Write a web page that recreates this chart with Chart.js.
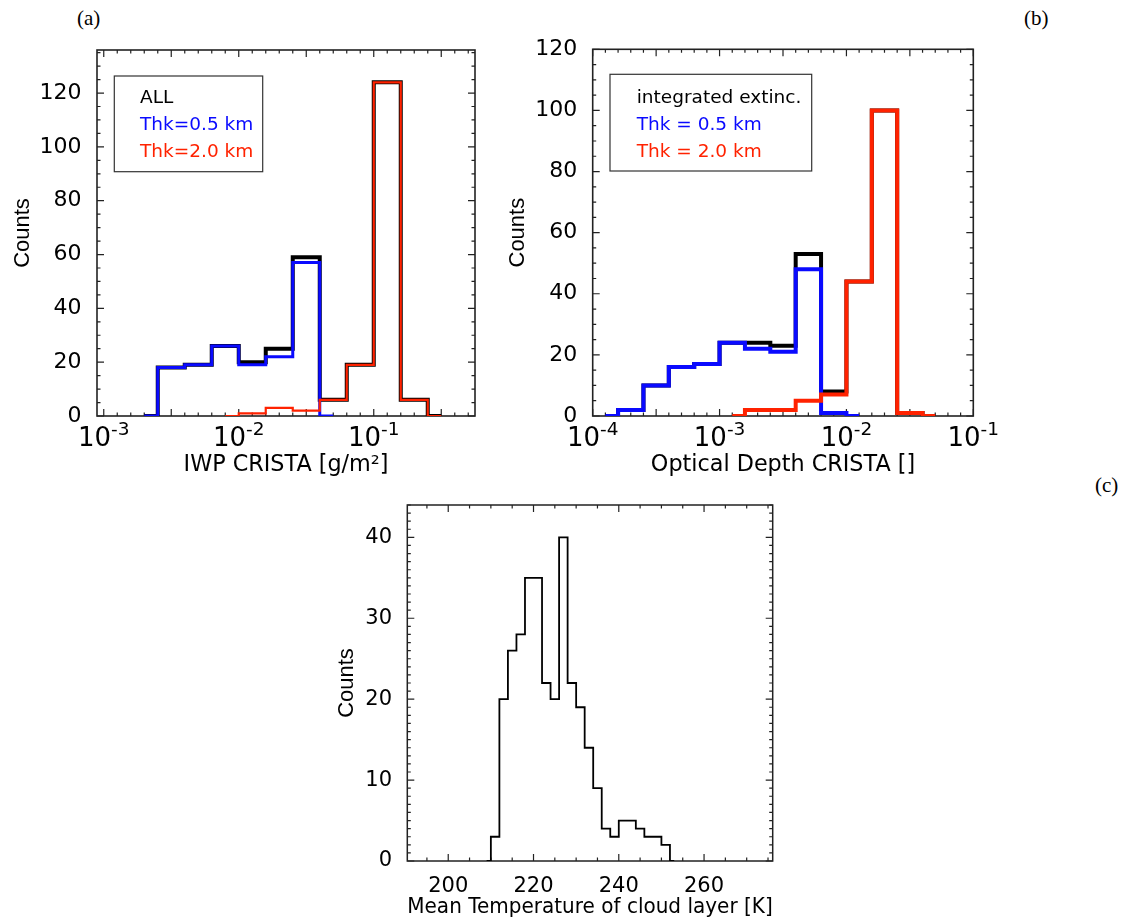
<!DOCTYPE html>
<html>
<head>
<meta charset="utf-8">
<script src="https://cdn.jsdelivr.net/npm/chart.js@4.4.1/dist/chart.umd.min.js"></script>
<style>
  html, body { margin: 0; padding: 0; background: #fff; }
  body { position: relative; width: 1126px; height: 924px; overflow: hidden; }
  canvas { position: absolute; }
  .tag { position: absolute; font-family: "Liberation Serif", "Times New Roman", serif; font-size: 21px; line-height: 1; color: #000; }
</style>
</head>
<body>
<div class="tag" style="left:77px; top:8px;">(a)</div>
<div class="tag" style="left:1024px; top:8px;">(b)</div>
<div class="tag" style="left:1095px; top:475px;">(c)</div>
<canvas id="iwpChart" width="500" height="490" style="left:0; top:0;"></canvas>
<canvas id="tauChart" width="500" height="490" style="left:500px; top:0;"></canvas>
<canvas id="tempChart" width="500" height="464" style="left:300px; top:460px;"></canvas>
<script>
// (a) IWP histogram, bin centres in log10(IWP)
const iwpBins = [-2.7, -2.5, -2.3, -2.1, -1.9, -1.7, -1.5, -1.3, -1.1, -0.9, -0.7, -0.5];
const iwpAll = [0, 18, 19, 26, 20, 25, 59, 6, 19, 124, 6, 0];
const iwpThin = [0, 18, 19, 26, 19, 22, 57, 0, null, null, null, null];
const iwpThick = [null, null, null, 0, 1, 3, 2, 6, 19, 124, 6, 0];
const iwpCountTicks = [0, 20, 40, 60, 80, 100, 120];
const iwpDecades = [-3, -2, -1];

// (b) optical depth histogram, bin centres in log10(tau)
const tauBins = [-3.9, -3.7, -3.5, -3.3, -3.1, -2.9, -2.7, -2.5, -2.3, -2.1, -1.9, -1.7, -1.5, -1.3];
const tauAll = [0, 2, 10, 16, 17, 24, 24, 23, 53, 8, 44, 100, 1, 0];
const tauThin = [0, 2, 10, 16, 17, 24, 22, 21, 48, 1, 0, null, null, null];
const tauThick = [null, null, null, null, null, 0, 2, 2, 5, 7, 44, 100, 1, 0];
const tauCountTicks = [0, 20, 40, 60, 80, 100, 120];
const tauDecades = [-4, -3, -2, -1];

// (c) mean temperature histogram, 2 K bins
const tempBins = [209, 211, 213, 215, 217, 219, 221, 223, 225, 227, 229, 231, 233, 235, 237, 239, 241, 243, 245, 247, 249, 251, 253];
const tempCounts = [0, 3, 20, 26, 28, 35, 35, 22, 20, 40, 22, 19, 14, 9, 4, 3, 5, 5, 4, 3, 3, 2, 0];
const tempTicks = [200, 220, 240, 260];
const tempCountTicks = [0, 10, 20, 30, 40];

const BLUE = '#0a0aff';
const RED = '#ff2200';
const SANS = "'DejaVu Sans', sans-serif";
const ARIAL = "'Liberation Sans', Arial, sans-serif";

function steps(bins, counts) {
    return bins.map((b, i) => ({ x: b, y: counts[i] }));
}

function hist(label, bins, counts, color, width, order) {
    return {
        label: label,
        data: steps(bins, counts),
        borderColor: color,
        borderWidth: width,
        stepped: 'middle',
        pointRadius: 0,
        fill: false,
        order: order,
        borderJoinStyle: 'miter',
        borderCapStyle: 'butt'
    };
}

function eachTick(scale, minor, major, fn) {
    const k0 = Math.ceil(scale.min / minor - 1e-6);
    const k1 = Math.floor(scale.max / minor + 1e-6);
    for (let k = k0; k <= k1; k++) {
        const v = k * minor;
        const r = v / major;
        fn(scale.getPixelForValue(v), Math.abs(r - Math.round(r)) < 1e-6);
    }
}

// IDL style frame: box on all four sides, ticks pointing inward
const idlAxes = {
    id: 'idlAxes',
    beforeDatasetsDraw(chart, args, opts) {
        const { ctx, chartArea: a } = chart;
        const x = chart.scales.x, y = chart.scales.y;
        ctx.save();
        ctx.strokeStyle = '#222';
        ctx.lineWidth = opts.frameWidth;
        ctx.strokeRect(a.left, a.top, a.right - a.left, a.bottom - a.top);
        ctx.lineWidth = 1.2;
        ctx.beginPath();
        eachTick(x, opts.xMinor, opts.xMajor, (px, major) => {
            const len = major ? 7 : 3.5;
            ctx.moveTo(px, a.bottom); ctx.lineTo(px, a.bottom - len);
            ctx.moveTo(px, a.top); ctx.lineTo(px, a.top + len);
        });
        eachTick(y, opts.yMinor, opts.yMajor, (py, major) => {
            const len = major ? 7 : 3.5;
            ctx.moveTo(a.left, py); ctx.lineTo(a.left + len, py);
            ctx.moveTo(a.right, py); ctx.lineTo(a.right - len, py);
        });
        ctx.stroke();
        ctx.restore();
    },
    afterDraw(chart, args, opts) {
        const ctx = chart.ctx;
        ctx.save();
        ctx.fillStyle = '#000';
        ctx.textBaseline = 'alphabetic';
        ctx.textAlign = 'left';

        if (opts.decades) {
            const d = opts.decades;
            d.values.forEach(p => {
                const px = chart.scales.x.getPixelForValue(p);
                const exp = String(p);
                ctx.font = '26px ' + SANS;
                const w1 = ctx.measureText('10').width;
                ctx.font = '18.5px ' + SANS;
                const w2 = ctx.measureText(exp).width;
                const left = px - (w1 + w2) / 2;
                ctx.font = '26px ' + SANS;
                ctx.fillText('10', left, d.y);
                ctx.font = '18.5px ' + SANS;
                ctx.fillText(exp, left + w1, d.y - 11);
            });
        }

        if (opts.legend) {
            const lg = opts.legend;
            ctx.strokeStyle = '#333';
            ctx.lineWidth = 1.2;
            ctx.strokeRect(lg.box[0], lg.box[1], lg.box[2] - lg.box[0], lg.box[3] - lg.box[1]);
            ctx.font = '18.5px ' + SANS;
            chart.data.datasets.forEach((ds, i) => {
                ctx.fillStyle = ds.borderColor;
                ctx.fillText(ds.label, lg.x, lg.y + i * 27.3);
            });
        }
        ctx.restore();
    }
};

function countAxis(max, ticks, width, titlePad, tickFont, tickPad) {
    return {
        min: 0,
        max: max,
        grid: { display: false },
        border: { display: false },
        afterBuildTicks: s => { s.ticks = ticks.map(v => ({ value: v })); },
        afterFit: s => { s.width = width; },
        ticks: { color: '#000', padding: tickPad, font: { family: SANS, size: tickFont } },
        title: {
            display: true,
            text: 'Counts',
            color: '#000',
            font: { family: ARIAL, size: 22 },
            padding: { top: titlePad, bottom: 0 }
        }
    };
}

function logAxis(min, max, text) {
    return {
        type: 'linear',
        min: min,
        max: max,
        grid: { display: false },
        border: { display: false },
        ticks: { display: false },
        afterFit: s => { s.height = 74; },
        title: {
            display: true,
            text: text,
            color: '#000',
            font: { family: SANS, size: 22.3 },
            padding: { top: 0, bottom: 11.6 }
        }
    };
}

document.addEventListener('DOMContentLoaded', function () {

    new Chart(document.getElementById('iwpChart').getContext('2d'), {
        type: 'line',
        data: {
            datasets: [
                hist('ALL', iwpBins, iwpAll, '#000', 4, 3),
                hist('Thk=0.5 km', iwpBins, iwpThin, BLUE, 3, 2),
                hist('Thk=2.0 km', iwpBins, iwpThick, RED, 2.2, 1)
            ]
        },
        options: {
            responsive: false,
            animation: false,
            layout: { padding: { left: 0, top: 50, right: 25, bottom: 0 } },
            plugins: {
                legend: { display: false },
                tooltip: { enabled: false },
                idlAxes: {
                    frameWidth: 1.6,
                    xMinor: 0.1, xMajor: 0.5, yMinor: 5, yMajor: 20,
                    decades: { values: iwpDecades, y: 446 },
                    legend: { box: [114.3, 76, 262.7, 171.7], x: 140, y: 102.5 }
                }
            },
            scales: {
                x: logAxis(-3.05, -0.25, 'IWP CRISTA [g/m²]'),
                y: countAxis(136, iwpCountTicks, 97, 9.3, 22, 7.5)
            }
        },
        plugins: [idlAxes]
    });

    new Chart(document.getElementById('tauChart').getContext('2d'), {
        type: 'line',
        data: {
            datasets: [
                hist('integrated extinc.', tauBins, tauAll, '#000', 4, 3),
                hist('Thk = 0.5 km', tauBins, tauThin, BLUE, 4, 2),
                hist('Thk = 2.0 km', tauBins, tauThick, RED, 4, 1)
            ]
        },
        options: {
            responsive: false,
            animation: false,
            layout: { padding: { left: 0, top: 49.3, right: 26.7, bottom: 0 } },
            plugins: {
                legend: { display: false },
                tooltip: { enabled: false },
                idlAxes: {
                    frameWidth: 1.6,
                    xMinor: 0.1, xMajor: 0.5, yMinor: 5, yMajor: 20,
                    decades: { values: tauDecades, y: 446 },
                    legend: { box: [110, 74.3, 311.7, 171], x: 136.7, y: 102.5 }
                }
            },
            scales: {
                x: logAxis(-4, -1, 'Optical Depth CRISTA []'),
                y: countAxis(120, tauCountTicks, 92.7, 4.8, 22, 7.5)
            }
        },
        plugins: [idlAxes]
    });

    new Chart(document.getElementById('tempChart').getContext('2d'), {
        type: 'line',
        data: {
            datasets: [
                hist('Mean temperature', tempBins, tempCounts, '#000', 1.8, 1)
            ]
        },
        options: {
            responsive: false,
            animation: false,
            layout: { padding: { left: 0, top: 45, right: 27.3, bottom: 0 } },
            plugins: {
                legend: { display: false },
                tooltip: { enabled: false },
                idlAxes: { frameWidth: 1.5, xMinor: 5, xMajor: 20, yMinor: 1, yMajor: 10 }
            },
            scales: {
                x: {
                    type: 'linear',
                    min: 190.4,
                    max: 276.1,
                    grid: { display: false },
                    border: { display: false },
                    afterBuildTicks: s => { s.ticks = tempTicks.map(v => ({ value: v })); },
                    afterFit: s => { s.height = 63; },
                    ticks: { color: '#000', padding: 5, maxRotation: 0, font: { family: SANS, size: 21 } },
                    title: {
                        display: true,
                        text: 'Mean Temperature of cloud layer [K]',
                        color: '#000',
                        font: { family: SANS, size: 20.5 },
                        padding: { top: 0, bottom: 4.5 }
                    }
                },
                y: countAxis(44, tempCountTicks, 107.3, 33.3, 21, 7.3)
            }
        },
        plugins: [idlAxes]
    });
});
</script>
</body>
</html>
